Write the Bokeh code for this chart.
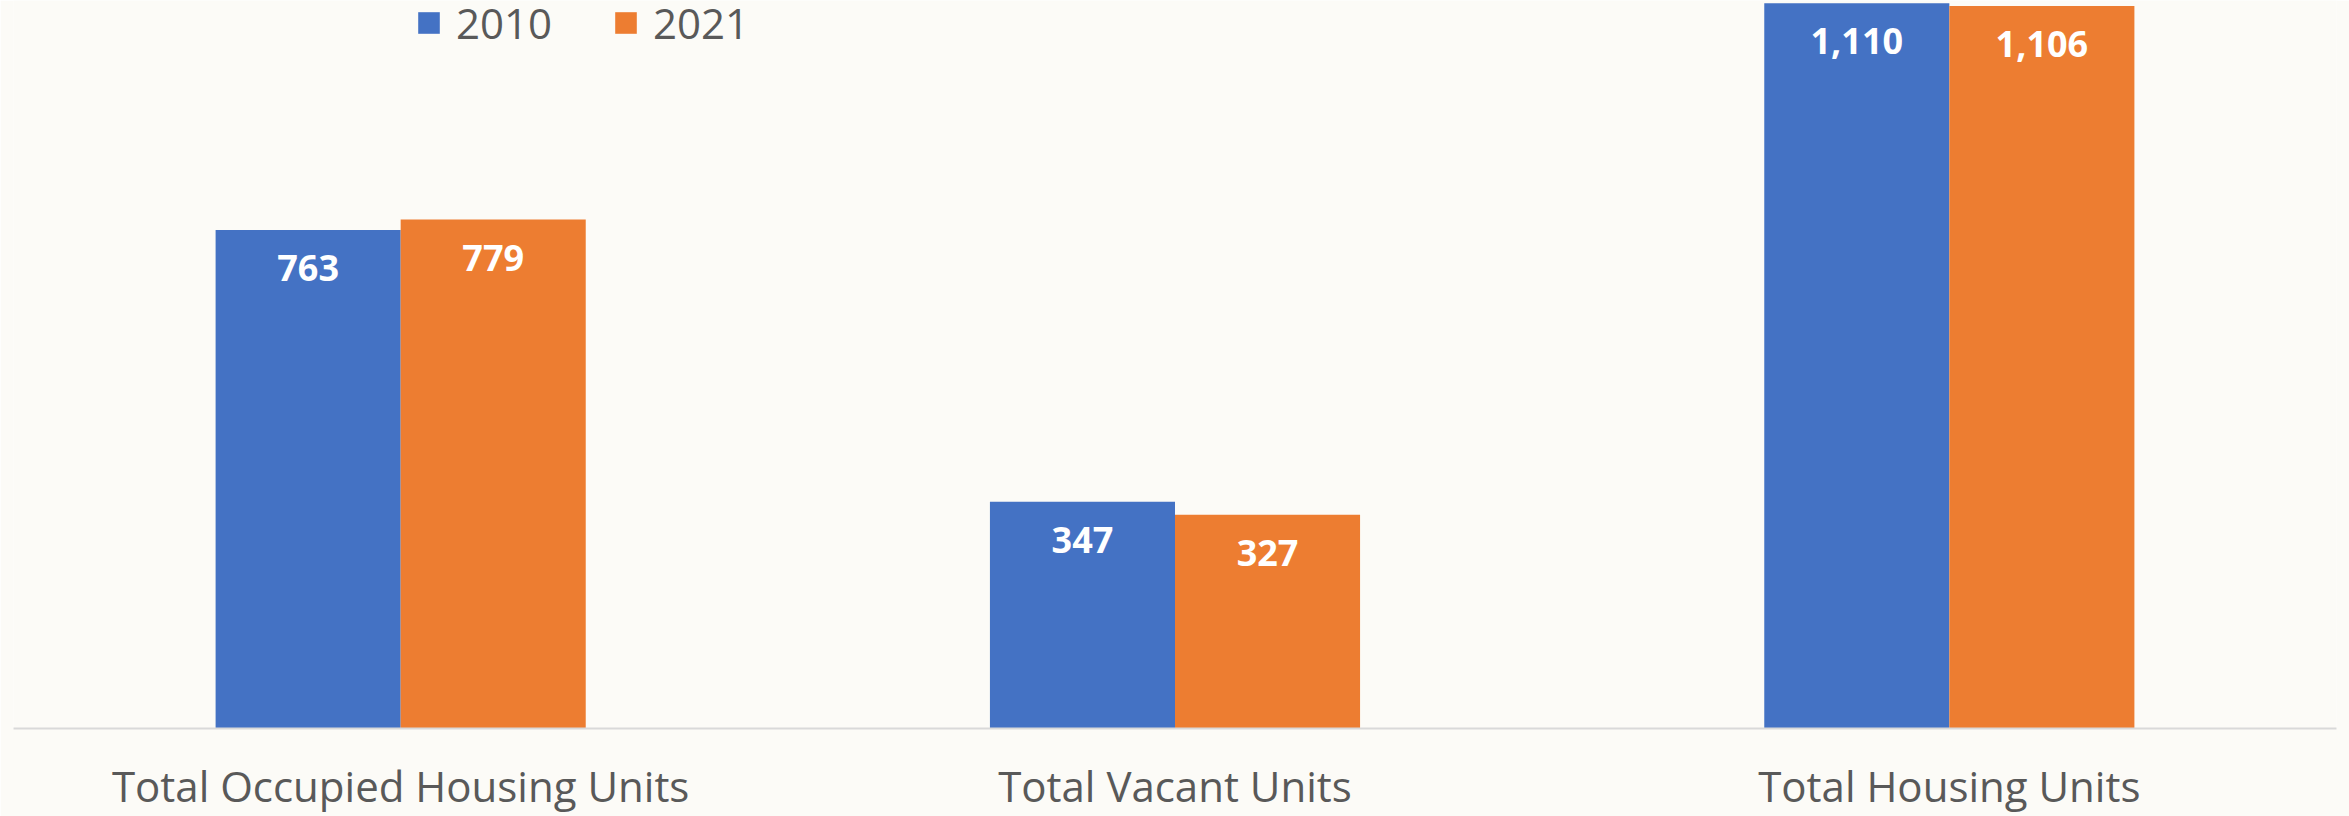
from bokeh.plotting import figure
from bokeh.models import FactorRange, Range1d, Legend, LegendItem, ColumnDataSource
from bokeh.transform import dodge
from bokeh.core.properties import value
from bokeh.embed import file_html
from bokeh.resources import INLINE

categories = ["Total Occupied Housing Units", "Total Vacant Units", "Total Housing Units"]
years = ["2010", "2021"]
values_2010 = [763, 347, 1110]
values_2021 = [779, 327, 1106]

BG = "#FCFBF7"
BLUE = "#4472C4"
ORANGE = "#ED7D31"
GRAY = "#595959"
FONT = "Open Sans"

src = ColumnDataSource(dict(
    cat=categories,
    v2010=values_2010,
    v2021=values_2021,
    l2010=[f"{v:,}" for v in values_2010],
    l2021=[f"{v:,}" for v in values_2021],
))

p = figure(width=2349, height=816,
           x_range=FactorRange(*categories, range_padding=0),
           y_range=Range1d(0, 1114.3),
           output_backend="svg", toolbar_location=None,
           min_border_left=13, min_border_right=13, min_border_top=0, min_border_bottom=85,
           background_fill_color=BG, border_fill_color=BG, outline_line_color=None)

bw = 0.239
off = 0.1195
r1 = p.vbar(x=dodge("cat", -off, range=p.x_range), top="v2010", width=bw, source=src,
            fill_color=BLUE, line_color=None)
r2 = p.vbar(x=dodge("cat", off, range=p.x_range), top="v2021", width=bw, source=src,
            fill_color=ORANGE, line_color=None)

for col, lab, o in (("v2010", "l2010", -off), ("v2021", "l2021", off)):
    p.text(x=dodge("cat", o, range=p.x_range), y=col, text=lab, source=src,
           text_color="white", text_font=value(FONT), text_font_style="bold",
           text_font_size="36px", text_align="center", text_baseline="middle",
           y_offset=38)

legend = Legend(items=[LegendItem(label=years[0], renderers=[r1]),
                       LegendItem(label=years[1], renderers=[r2])],
                orientation="horizontal", location=(402, 677),
                glyph_width=27, glyph_height=27, label_standoff=14, spacing=60,
                padding=0, margin=0, border_line_color=None, background_fill_alpha=0,
                label_text_font=FONT, label_text_font_size="42px", label_text_color=GRAY,
                label_text_line_height=1.0)
p.add_layout(legend)

p.grid.visible = False
p.yaxis.visible = False
xa = p.xaxis[0]
xa.axis_line_color = "#D9D9D9"
xa.axis_line_width = 2
xa.major_tick_line_color = None
xa.minor_tick_line_color = None
xa.major_tick_in = 0
xa.major_tick_out = 0
xa.major_label_standoff = 28
xa.major_label_text_font = FONT
xa.major_label_text_font_size = "42px"
xa.major_label_text_color = GRAY

open("out.html", "w").write(file_html(p, INLINE))
